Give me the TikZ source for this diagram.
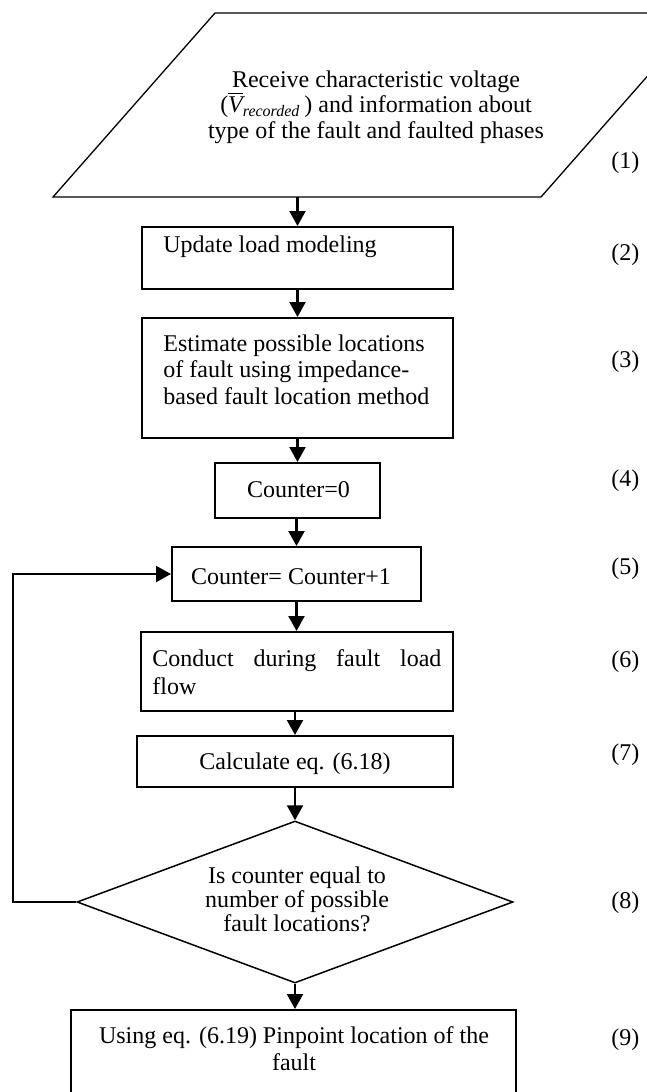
\documentclass[tikz,border=0pt]{standalone}
\usepackage{fontspec}
\setmainfont{Liberation Serif}
\usepackage{amsmath}
\usetikzlibrary{arrows.meta,shapes.geometric}

\tikzset{
  every node/.style={font=\fontsize{12}{13}\selectfont},
  box/.style={draw, line width=1pt, inner sep=0pt},
  words/.style={inner sep=0pt},
  flow/.style={-{Triangle[length=7.5pt,width=8pt]}, line width=1.1pt},
  tag/.style={inner sep=0pt, anchor=base west},
}

\begin{document}
\lineskiplimit=-100pt
\begin{tikzpicture}[x=0.5pt,y=-0.5pt]
\useasboundingbox (0,0) rectangle (647,1092);
\clip (0,0) rectangle (647,1092);

% input / output parallelogram
\coordinate (in-tl) at (215,13);
\coordinate (in-tr) at (703,13);
\coordinate (in-br) at (541,197);
\coordinate (in-bl) at (53,197);
\draw[line width=0.65pt, line join=miter] (in-tl) -- (in-tr) -- (in-br) -- (in-bl) -- cycle;
% (multi-line nodes without a text width sit on the baseline of their last line)
\node[words, anchor=base, align=center, font=\fontsize{12}{12.75}\selectfont] (tin) at (376,138)
  {Receive characteristic voltage\\
   (\(\overline{\textit{V}}_{\textit{recorded}}\)\,) and information about\\
   type of the fault and faulted phases};

% process boxes
\node[box, minimum width=155.5pt, minimum height=31pt]  (b2) at (297.5,258) {};
\node[box, minimum width=155.5pt, minimum height=60pt]  (b3) at (297.5,378) {};
\node[box, minimum width=82.5pt,  minimum height=27.5pt] (b4) at (297.5,490.5) {};
\node[box, minimum width=124.5pt, minimum height=27pt]  (b5) at (296.5,574) {};
\node[box, minimum width=156pt,   minimum height=39.5pt] (b6) at (297,671.5) {};
\node[box, minimum width=158pt,   minimum height=25.5pt] (b7) at (295,761.5) {};
\node[diamond, draw, line width=0.75pt, aspect=2.7, inner sep=0pt,
      minimum width=218pt, minimum height=81pt] (dia) at (295,902) {};
\node[box, minimum width=222.5pt, minimum height=55pt]  (b9) at (293.5,1065) {};

% box texts
\node[words, anchor=base west] (t2) at (163,252) {Update load modeling};
\node[words, anchor=base west, align=left, font=\fontsize{12}{13.2}\selectfont] (t3) at (163,404)
  {Estimate possible locations\\of fault using impedance-\\based fault location method};
\node[words, anchor=base] (t4) at (298.5,497) {Counter=0};
\node[words, anchor=base] (t5) at (291,584) {Counter= Counter+1};
% (a node with a text width sits on the baseline of its first line)
\node[words, anchor=base west, text width=144.5pt, align=left, font=\fontsize{12}{14}\selectfont] (t6) at (152,666)
  {Conduct\hfill during\hfill fault\hfill load\\flow};
\node[words, anchor=base] (t7) at (295,769) {Calculate eq. (6.18)};
\node[words, anchor=base, align=center, font=\fontsize{12}{12}\selectfont] (t8) at (297,931)
  {Is counter equal to\\number of possible\\fault locations?};
\node[words, anchor=base, align=center, font=\fontsize{12}{13.5}\selectfont] (t9) at (294,1070)
  {Using eq. (6.19) Pinpoint location of the\\fault};

% step numbers
\node[tag] (n1) at (611,168)  {(1)};
\node[tag] (n2) at (611,260)  {(2)};
\node[tag] (n3) at (611,367)  {(3)};
\node[tag] (n4) at (611,486)  {(4)};
\node[tag] (n5) at (611,574)  {(5)};
\node[tag] (n6) at (611,667)  {(6)};
\node[tag] (n7) at (611,760)  {(7)};
\node[tag] (n8) at (611,908)  {(8)};
\node[tag] (n9) at (611,1045) {(9)};

% connectors
\draw[flow] (b2.north |- in-bl) -- (b2.north);
\draw[flow] (b2.south) -- (b3.north);
\draw[flow] (b3.south -| b4.north) -- (b4.north);
\draw[flow] (b4.south -| b5.north) -- (b5.north);
\draw[flow] (b5.south) -- (b5.south |- b6.north);
\draw[flow] (b6.south -| b7.north) -- (b7.north);
\draw[flow] (b7.south) -- (dia.north);
\draw[flow] (dia.south) -- (dia.south |- b9.north);
\draw[flow] (dia.west) -- ++(-63,0) |- (b5.west);
\end{tikzpicture}
\end{document}
